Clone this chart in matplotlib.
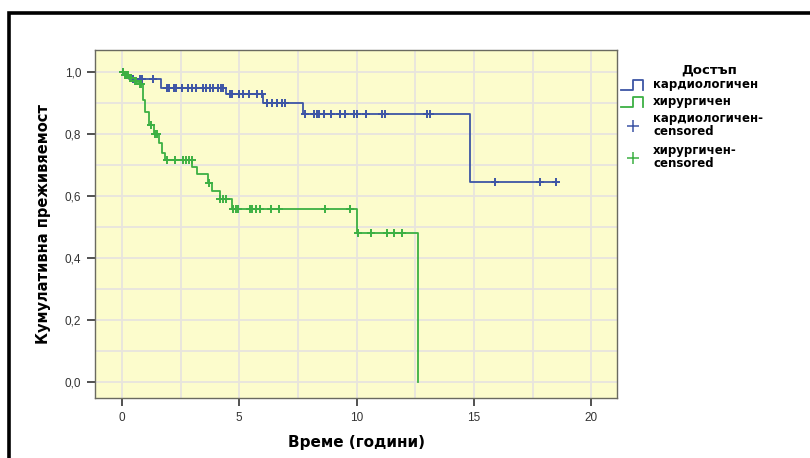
import numpy as np
import matplotlib
matplotlib.use("Agg")
import matplotlib.pyplot as plt
from matplotlib.lines import Line2D
from matplotlib.patches import Rectangle

# ---- data ----
cardio_times = [0.0, 0.1, 0.3, 1.65, 4.45, 6.0, 7.7, 14.85]
cardio_surv = [1.0, 0.99, 0.978, 0.95, 0.93, 0.90, 0.865, 0.645]
cardio_end = 18.5
cardio_censored = [0.05, 0.15, 0.2, 0.45, 0.77, 0.85, 1.32, 1.9, 2.0, 2.2, 2.3,
                   2.55, 2.8, 3.0, 3.15, 3.45, 3.6, 3.75, 3.9, 4.1, 4.2, 4.3,
                   4.6, 4.7, 5.0, 5.15, 5.4, 5.75, 5.95, 6.2, 6.4, 6.6, 6.8, 6.95,
                   7.8, 8.2, 8.3, 8.4, 8.6, 8.9, 9.3, 9.5, 9.9, 10.0, 10.4, 11.1,
                   11.2, 13.0, 13.15, 15.9, 17.8, 18.5]

surg_times = [0.0, 0.1, 0.3, 0.5, 0.7, 0.9, 1.0, 1.15, 1.35, 1.57, 1.7, 1.85,
              3.0, 3.2, 3.65, 3.83, 4.17, 4.68, 10.0, 12.6]
surg_surv = [1.0, 0.99, 0.98, 0.97, 0.96, 0.91, 0.87, 0.83, 0.80, 0.77, 0.74,
             0.717, 0.695, 0.67, 0.643, 0.617, 0.59, 0.558, 0.48, 0.0]
surg_end = 12.6
surg_censored = [0.05, 0.15, 0.2, 0.25, 0.35, 0.4, 0.55, 0.6, 0.75, 0.8, 1.25,
                 1.4, 1.5, 1.9, 2.25, 2.6, 2.75, 2.85, 2.98, 3.7, 4.17, 4.3, 4.43,
                 4.72, 4.85, 4.95, 5.45, 5.55, 5.7, 5.9, 6.35, 6.7, 8.65, 9.7,
                 10.05, 10.6, 11.3, 11.6, 11.95]

x_ticks = [0, 5, 10, 15, 20]
y_ticks = [0.0, 0.2, 0.4, 0.6, 0.8, 1.0]
y_tick_labels = ["0,0", "0,2", "0,4", "0,6", "0,8", "1,0"]

legend_title = "Достъп"
group_labels = ["кардиологичен", "хирургичен"]
censor_labels = ["кардиологичен-\ncensored", "хирургичен-\ncensored"]
x_label = "Време (години)"
y_label = "Кумулативна преживяемост"

BLUE = "#3D55A5"
GREEN = "#3CB043"

plt.rcParams['font.family'] = ['Liberation Sans', 'DejaVu Sans']
WIDE = ['DejaVu Sans']

W, H = 810, 458
fig = plt.figure(figsize=(W / 100, H / 100), dpi=100)
fig.patch.set_facecolor("white")

def fx(px):
    return px / W

def fy(py):
    return 1 - py / H

# outer black frame (cut off at the right and bottom)
fig.patches.append(Rectangle((fx(8.5), fy(470)), fx(830) - fx(8.5), fy(13.5) - fy(470),
                             transform=fig.transFigure, fill=False,
                             edgecolor="black", linewidth=2.6, clip_on=False))

ax = fig.add_axes([fx(95), fy(398), fx(617) - fx(95), fy(50) - fy(398)])
ax.set_facecolor("#FCFCCC")
ax.set_xlim(-1.15, 21.1)
ax.set_ylim(-0.05, 1.071)

# grid (every 2.5 years, every 0.1)
for gx in np.arange(0, 22.5, 2.5):
    ax.axvline(gx, color="#E8E4DE", linewidth=1.3, zorder=0.5)
for gy in np.arange(0, 1.05, 0.1):
    ax.axhline(gy, color="#E8E4DE", linewidth=1.3, zorder=0.5)

ax.set_xticks(x_ticks)
ax.set_yticks(y_ticks)
ax.set_yticklabels(y_tick_labels)
ax.tick_params(which="major", direction="out", length=6, width=1.2,
               color="#333333", labelsize=8.5, labelcolor="#333333", pad=4)
for sp in ax.spines.values():
    sp.set_color("#6A6A60")
    sp.set_linewidth(1.0)


def km_draw(times, surv, end, censored, color):
    xs = list(times) + [end]
    ys = list(surv) + [surv[-1]]
    ax.step(xs, ys, where="post", color=color, linewidth=1.3, zorder=3)
    t = np.asarray(times)
    s = np.asarray(surv)
    cy = [s[np.searchsorted(t, c, side="right") - 1] for c in censored]
    ax.plot(censored, cy, linestyle="none", marker="+", markersize=6,
            markeredgewidth=1.4, color=color, zorder=4)


km_draw(cardio_times, cardio_surv, cardio_end, cardio_censored, BLUE)
km_draw(surg_times, surg_surv, surg_end, surg_censored, GREEN)

ax.set_xlabel(x_label, fontsize=11, fontweight="bold", labelpad=8, family=WIDE)
ax.set_ylabel(y_label, fontsize=10.5, fontweight="bold", labelpad=10, family=WIDE)

# legend (manual)
fig.text(fx(709), fy(70), legend_title, fontsize=9.5, fontweight="bold",
         ha="center", va="center", family=WIDE)
text_x = fx(653)
for i, (lab, col) in enumerate(zip(group_labels, [BLUE, GREEN])):
    yc = 85 + i * 17
    px = [621, 633, 633, 643, 643]
    py = [yc + 5, yc + 5, yc - 5, yc - 5, yc + 5]
    fig.add_artist(Line2D([fx(p) for p in px], [fy(p) for p in py],
                          transform=fig.transFigure, color=col, linewidth=1.3))
    fig.text(text_x, fy(yc), lab, fontsize=8.5, fontweight="bold",
             ha="left", va="center", family=WIDE)
for i, (lab, col) in enumerate(zip(censor_labels, [BLUE, GREEN])):
    yc = 125 + i * 32
    fig.add_artist(Line2D([fx(633)], [fy(yc + 1)], transform=fig.transFigure,
                          color=col, marker="+", markersize=9,
                          markeredgewidth=1.1, linestyle="none"))
    fig.text(text_x, fy(yc), lab, fontsize=8.5, fontweight="bold",
             ha="left", va="center", linespacing=1.05, family=WIDE)

fig.savefig("out.png", dpi=100)
